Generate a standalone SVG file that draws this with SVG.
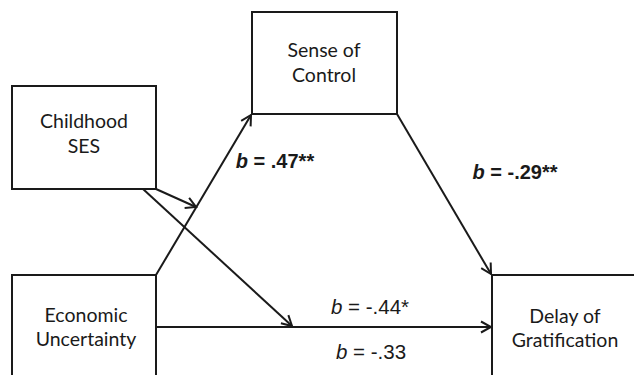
<svg xmlns="http://www.w3.org/2000/svg" width="634" height="375" viewBox="0 0 634 375">
<style>
.box{fill:#fff;stroke:#1a1a1a;stroke-width:2}
.lbl{font-family:Lato,"Liberation Sans",sans-serif;font-size:19.5px;fill:#1a1a1a;text-anchor:middle}
.ln{stroke:#1a1a1a;stroke-width:2;fill:none;marker-end:url(#ah)}
.coef{font-family:"Liberation Sans",Arial,sans-serif;font-size:20.5px;fill:#1a1a1a;text-anchor:middle}
.bold{font-weight:bold;font-size:20px}
</style>
<defs>
<marker id="ah" markerUnits="userSpaceOnUse" markerWidth="14" markerHeight="14" viewBox="-12 -7 14 14" refX="0" refY="0" orient="auto">
<path d="M-10,-5.5 L0,0 L-10,5.5" fill="none" stroke="#1a1a1a" stroke-width="2"/>
</marker>
</defs>
<rect width="634" height="375" fill="#fff"/>
<g id="connectors">
<line class="ln" x1="156" y1="275" x2="251" y2="115"/>
<line class="ln" x1="397" y1="114" x2="491" y2="274"/>
<line class="ln" x1="156" y1="189" x2="196" y2="207"/>
<line class="ln" x1="143" y1="189" x2="292" y2="326"/>
<line class="ln" x1="156" y1="327" x2="491" y2="327"/>
<text class="coef bold" x="275" y="168"><tspan font-style="italic">b</tspan> = .47**</text>
<text class="coef bold" x="515" y="179"><tspan font-style="italic">b</tspan> = -.29**</text>
<text class="coef" x="370" y="314"><tspan font-style="italic">b</tspan> = -.44*</text>
<text class="coef" x="371" y="359"><tspan font-style="italic">b</tspan> = -.33</text>
</g>
<g id="childhood-ses">
<rect class="box" x="12" y="86" width="144" height="103"/>
<text class="lbl" x="84" y="128">Childhood</text>
<text class="lbl" x="84" y="153">SES</text>
</g>
<g id="sense-of-control">
<rect class="box" x="252" y="12" width="145" height="102"/>
<text class="lbl" x="324" y="57">Sense of</text>
<text class="lbl" x="324" y="82">Control</text>
</g>
<g id="economic-uncertainty">
<rect class="box" x="12" y="275" width="144" height="115"/>
<text class="lbl" x="86" y="322">Economic</text>
<text class="lbl" x="86" y="346">Uncertainty</text>
</g>
<g id="delay-of-gratification">
<rect class="box" x="492" y="275" width="160" height="115"/>
<text class="lbl" x="565" y="323">Delay of</text>
<text class="lbl" x="565" y="347">Gratification</text>
</g>
</svg>
